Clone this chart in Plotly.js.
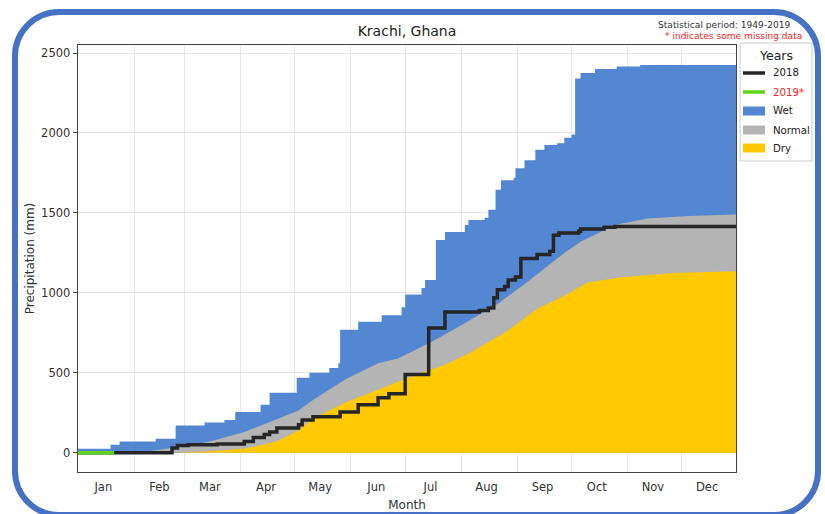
<!DOCTYPE html>
<html>
<head>
<meta charset="utf-8">
<script src="https://cdn.plot.ly/plotly-3.0.1.min.js"></script>
<style>
  html, body { margin:0; padding:0; background:#fff; }
  #wrap { position:relative; width:825px; height:514px; overflow:hidden; }
  #chart { position:absolute; left:0; top:0; width:825px; height:514px; }
  #frame { position:absolute; left:12px; top:9px; width:809px; height:509px; box-sizing:border-box;
           border:6px solid #4672c6; border-radius:47px; pointer-events:none; }
</style>
</head>
<body>
<div id="wrap">
  <div id="chart"></div>
  <div id="frame"></div>
</div>
<script>
// Month axis (day of year, Jan 1 = 0)
const monthLabels = ['Jan','Feb','Mar','Apr','May','Jun','Jul','Aug','Sep','Oct','Nov','Dec'];
const monthMidDays = [14, 45, 73, 104, 134, 165, 195, 226, 257, 287, 318, 348];
const monthStartDays = [31, 59, 90, 120, 151, 181, 212, 243, 273, 304, 334];

// Wet (upper envelope), step series
const wetDays = [0, 18, 23, 43, 54, 70, 81, 87, 101, 106, 121, 128, 139, 144, 145, 155, 168, 179, 181, 190, 192, 198, 203, 214, 216, 225, 227, 231, 234, 241, 242, 247, 253, 258, 265, 269, 273, 275, 278, 286, 298, 311, 364];
const wetVals = [25, 50, 70, 88, 170, 190, 205, 255, 300, 375, 470, 500, 530, 560, 770, 820, 860, 910, 990, 1030, 1080, 1330, 1380, 1425, 1455, 1470, 1520, 1645, 1705, 1720, 1780, 1830, 1895, 1925, 1935, 1970, 1990, 2340, 2375, 2400, 2415, 2425, 2430];

// Normal
const normalDays = [0, 20, 40, 55, 73, 92, 110, 122, 130, 148, 166, 177, 195, 214, 232, 250, 269, 278, 297, 315, 338, 364];
const normalVals = [0, 3, 12, 35, 70, 130, 210, 265, 330, 460, 560, 590, 690, 810, 930, 1080, 1250, 1320, 1425, 1465, 1480, 1490];

// Dry
const dryDays = [0, 55, 73, 92, 110, 122, 130, 148, 166, 184, 203, 216, 236, 254, 272, 282, 302, 330, 364];
const dryVals = [0, 0, 10, 25, 70, 140, 215, 315, 395, 475, 550, 620, 750, 900, 1000, 1065, 1100, 1125, 1135];

// 2018 cumulative
const y2018Days = [0, 52, 55, 61, 77, 92, 97, 103, 106, 110, 122, 124, 130, 145, 155, 166, 172, 181, 194, 203, 222, 227, 230, 232, 236, 238, 242, 245, 254, 261, 263, 266, 277, 278, 291, 297, 364];
const y2018Vals = [0, 30, 45, 50, 55, 70, 95, 115, 130, 155, 175, 205, 225, 255, 300, 345, 370, 490, 780, 880, 890, 905, 970, 1020, 1040, 1080, 1100, 1215, 1240, 1260, 1360, 1375, 1385, 1400, 1410, 1415, 1415];

// 2019* cumulative (partial year)
const y2019Days = [0, 20];
const y2019Vals = [0, 0];

// Legend entries
const legendNames = ['2018', '2019*', 'Wet', 'Normal', 'Dry'];
const legendKinds = ['line', 'line', 'box', 'box', 'box'];

const FONT = 'DejaVu Sans, Arial, sans-serif';
const C = {wet: '#5387d2', normal: '#b4b4b4', dry: '#ffc900', y2018: '#262626', y2019: '#5fd21e', red: '#ff2020'};
const legendColors = [C.y2018, C.y2019, C.wet, C.normal, C.dry];
const legendTextColors = ['#222', C.red, '#222', '#222', '#222'];

// plot area in pixels (for decoration placement)
const PL = 78, PR = 736, PT = 45, PB = 472;
const px = v => (v - PL) / (PR - PL);
const py = v => (PB - v) / (PB - PT);

const traces = [
  { x: wetDays, y: wetVals, name: 'Wet', type: 'scatter', mode: 'lines', line: {width: 0, shape: 'hv', color: C.wet},
    fill: 'tozeroy', fillcolor: C.wet, hoverinfo: 'skip' },
  { x: normalDays, y: normalVals, name: 'Normal', type: 'scatter', mode: 'lines', line: {width: 0, color: C.normal},
    fill: 'tozeroy', fillcolor: C.normal, hoverinfo: 'skip' },
  { x: dryDays, y: dryVals, name: 'Dry', type: 'scatter', mode: 'lines', line: {width: 0, color: C.dry},
    fill: 'tozeroy', fillcolor: C.dry, hoverinfo: 'skip' },
  { x: y2018Days, y: y2018Vals, name: '2018', type: 'scatter', mode: 'lines',
    line: {width: 3.5, shape: 'hv', color: C.y2018} },
  { x: y2019Days, y: y2019Vals, name: '2019*', type: 'scatter', mode: 'lines',
    line: {width: 3.5, shape: 'hv', color: C.y2019} }
];

// custom legend (box, title, entries)
const shapes = [
  {type: 'rect', xref: 'paper', yref: 'paper', x0: px(740), x1: px(812), y0: py(161), y1: py(43),
   line: {color: '#cccccc', width: 1}, fillcolor: '#ffffff', layer: 'above'}
];
const annotations = [
  {text: 'Statistical period: 1949-2019', xref: 'paper', yref: 'paper', x: px(793), y: py(25), xanchor: 'right', yanchor: 'middle',
   showarrow: false, font: {family: FONT, size: 9.1, color: '#333'}},
  {text: '* indicates some missing data', xref: 'paper', yref: 'paper', x: px(804), y: py(36), xanchor: 'right', yanchor: 'middle',
   showarrow: false, font: {family: FONT, size: 9.1, color: C.red}},
  {text: 'Years', xref: 'paper', yref: 'paper', x: px(776), y: py(55), xanchor: 'center', yanchor: 'middle',
   showarrow: false, font: {family: FONT, size: 12.5, color: '#222'}}
];
const rowY = [73, 92, 111, 130, 148];
legendNames.forEach((n, i) => {
  const yc = rowY[i];
  if (legendKinds[i] === 'line') {
    shapes.push({type: 'line', xref: 'paper', yref: 'paper', x0: px(743), x1: px(765), y0: py(yc), y1: py(yc),
                 line: {color: legendColors[i], width: 3.5}, layer: 'above'});
  } else {
    shapes.push({type: 'rect', xref: 'paper', yref: 'paper', x0: px(743), x1: px(765), y0: py(yc + 4.5), y1: py(yc - 4.5),
                 line: {width: 0}, fillcolor: legendColors[i], layer: 'above'});
  }
  annotations.push({text: n, xref: 'paper', yref: 'paper', x: px(771), y: py(yc), xanchor: 'left', yanchor: 'middle',
                    showarrow: false, font: {family: FONT, size: 10.2, color: legendTextColors[i]}});
});

const layout = {
  width: 825, height: 514,
  margin: {l: PL, r: 825 - PR, t: PT, b: 514 - PB, autoexpand: false},
  paper_bgcolor: '#ffffff', plot_bgcolor: '#ffffff',
  font: {family: FONT, color: '#333', size: 11},
  title: {text: 'Krachi, Ghana', x: 0.5, xref: 'paper', xanchor: 'center', y: 1 - 31/514, yanchor: 'middle',
          font: {family: FONT, size: 14, color: '#222'}},
  showlegend: false,
  xaxis: {range: [0, 364], tickmode: 'array', tickvals: monthMidDays, ticktext: monthLabels,
          ticks: 'outside', ticklen: 4, tickcolor: 'rgba(0,0,0,0)',
          showgrid: false, zeroline: false, showline: true, mirror: true, linecolor: '#444', linewidth: 1.3,
          tickfont: {family: FONT, size: 11.5, color: '#333'},
          minor: {tickmode: 'array', tickvals: monthStartDays, showgrid: true, gridcolor: '#e6e6e6', gridwidth: 1, ticks: ''},
          title: {text: 'Month', standoff: 7, font: {family: FONT, size: 12, color: '#333'}}},
  yaxis: {range: [-120, 2550], tickmode: 'array', tickvals: [0, 500, 1000, 1500, 2000, 2500],
          showgrid: true, gridcolor: '#e6e6e6', gridwidth: 1, zeroline: false, showline: true, mirror: true,
          linecolor: '#444', linewidth: 1.3, ticks: 'outside', ticklen: 4, tickcolor: '#444',
          tickfont: {family: FONT, size: 11.5, color: '#333'},
          title: {text: 'Precipitation (mm)', standoff: 4, font: {family: FONT, size: 12, color: '#333'}}},
  shapes: shapes,
  annotations: annotations
};

Plotly.newPlot('chart', traces, layout, {displayModeBar: false, staticPlot: true});
</script>
</body>
</html>
